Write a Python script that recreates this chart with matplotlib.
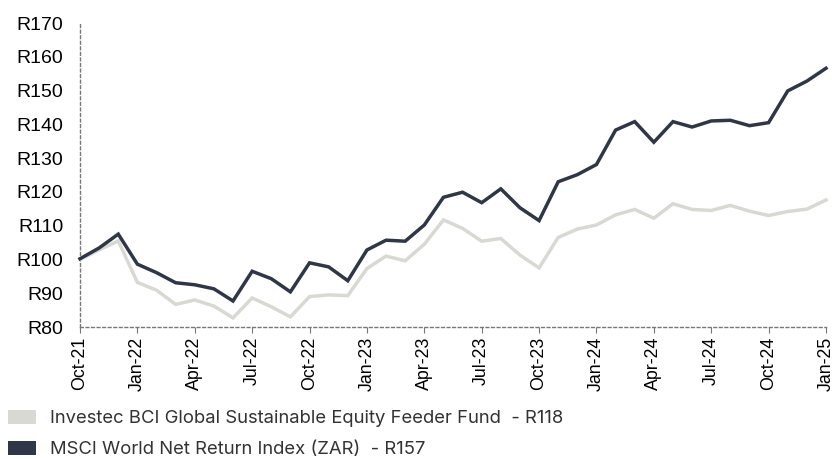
import matplotlib
matplotlib.use('Agg')
import matplotlib.pyplot as plt
from matplotlib.patches import Patch

# month-end values, Oct-21 .. Jan-25
months = ['Oct-21', 'Nov-21', 'Dec-21', 'Jan-22', 'Feb-22', 'Mar-22', 'Apr-22', 'May-22', 'Jun-22',
          'Jul-22', 'Aug-22', 'Sep-22', 'Oct-22', 'Nov-22', 'Dec-22', 'Jan-23', 'Feb-23', 'Mar-23',
          'Apr-23', 'May-23', 'Jun-23', 'Jul-23', 'Aug-23', 'Sep-23', 'Oct-23', 'Nov-23', 'Dec-23',
          'Jan-24', 'Feb-24', 'Mar-24', 'Apr-24', 'May-24', 'Jun-24', 'Jul-24', 'Aug-24', 'Sep-24',
          'Oct-24', 'Nov-24', 'Dec-24', 'Jan-25']

fund = [100.0, 102.8, 105.5, 93.2, 90.9, 86.7, 88.0, 86.2, 82.7, 88.6,
        86.0, 83.0, 89.0, 89.5, 89.3, 97.3, 101.0, 99.6, 104.5, 111.7,
        109.2, 105.4, 106.2, 101.3, 97.5, 106.5, 109.0, 110.2, 113.2, 114.8,
        112.2, 116.5, 114.8, 114.5, 116.0, 114.3, 113.0, 114.2, 114.9, 117.6]

msci = [100.2, 103.4, 107.5, 98.6, 96.1, 93.1, 92.5, 91.3, 87.7, 96.5,
        94.3, 90.4, 99.0, 97.8, 93.7, 102.8, 105.7, 105.4, 110.2, 118.4,
        119.9, 116.8, 120.9, 115.3, 111.5, 123.0, 125.1, 128.1, 138.3, 140.8,
        134.7, 140.8, 139.2, 141.0, 141.2, 139.6, 140.5, 149.9, 152.8, 156.6]

labels = ['Investec BCI Global Sustainable Equity Feeder Fund  - R118',
          'MSCI World Net Return Index (ZAR)  - R157']

light = '#d9d9d4'
dark = '#2f3648'

W, H = 837, 459
fig = plt.figure(figsize=(W / 100, H / 100), dpi=100)
ax = fig.add_axes([80 / W, (H - 327) / H, (826 - 80) / W, (327 - 23) / H])

x = list(range(len(months)))
ax.plot(x, fund, color=light, lw=2.5, solid_joinstyle='miter', clip_on=False, zorder=3)
ax.plot(x, msci, color=dark, lw=2.5, solid_joinstyle='miter', clip_on=False, zorder=4)

ax.set_xlim(0, len(months) - 1)
ax.set_ylim(80, 170)
ax.set_yticks(range(80, 171, 10))
ax.set_yticklabels(['R%d' % v for v in range(80, 171, 10)],
                   fontfamily='Liberation Sans', fontsize=14, color='black')
ax.set_xticks(x[::3])
ax.set_xticklabels(months[::3], rotation=90, fontfamily='Liberation Sans',
                   fontsize=12.8, color='black')

ax.tick_params(axis='y', length=0, pad=12)
ax.tick_params(axis='x', length=4, color='#777777', width=0.8, pad=3)

for s in ['top', 'right']:
    ax.spines[s].set_visible(False)
for s in ['left', 'bottom']:
    ax.spines[s].set_color('#777777')
    ax.spines[s].set_linewidth(1.0)
    ax.spines[s].set_linestyle((0, (2, 2)))

handles = [Patch(facecolor=light, edgecolor='none'), Patch(facecolor=dark, edgecolor='none')]
fig.legend(handles, labels, loc='upper left', bbox_to_anchor=(8 / W, (H - 410) / H),
           frameon=False, prop={'family': 'Inter', 'size': 13.3}, labelcolor='#333333',
           handlelength=1.5, handleheight=0.75, handletextpad=0.8, labelspacing=0.75,
           borderpad=0, borderaxespad=0)

fig.savefig('out.png', dpi=100)
